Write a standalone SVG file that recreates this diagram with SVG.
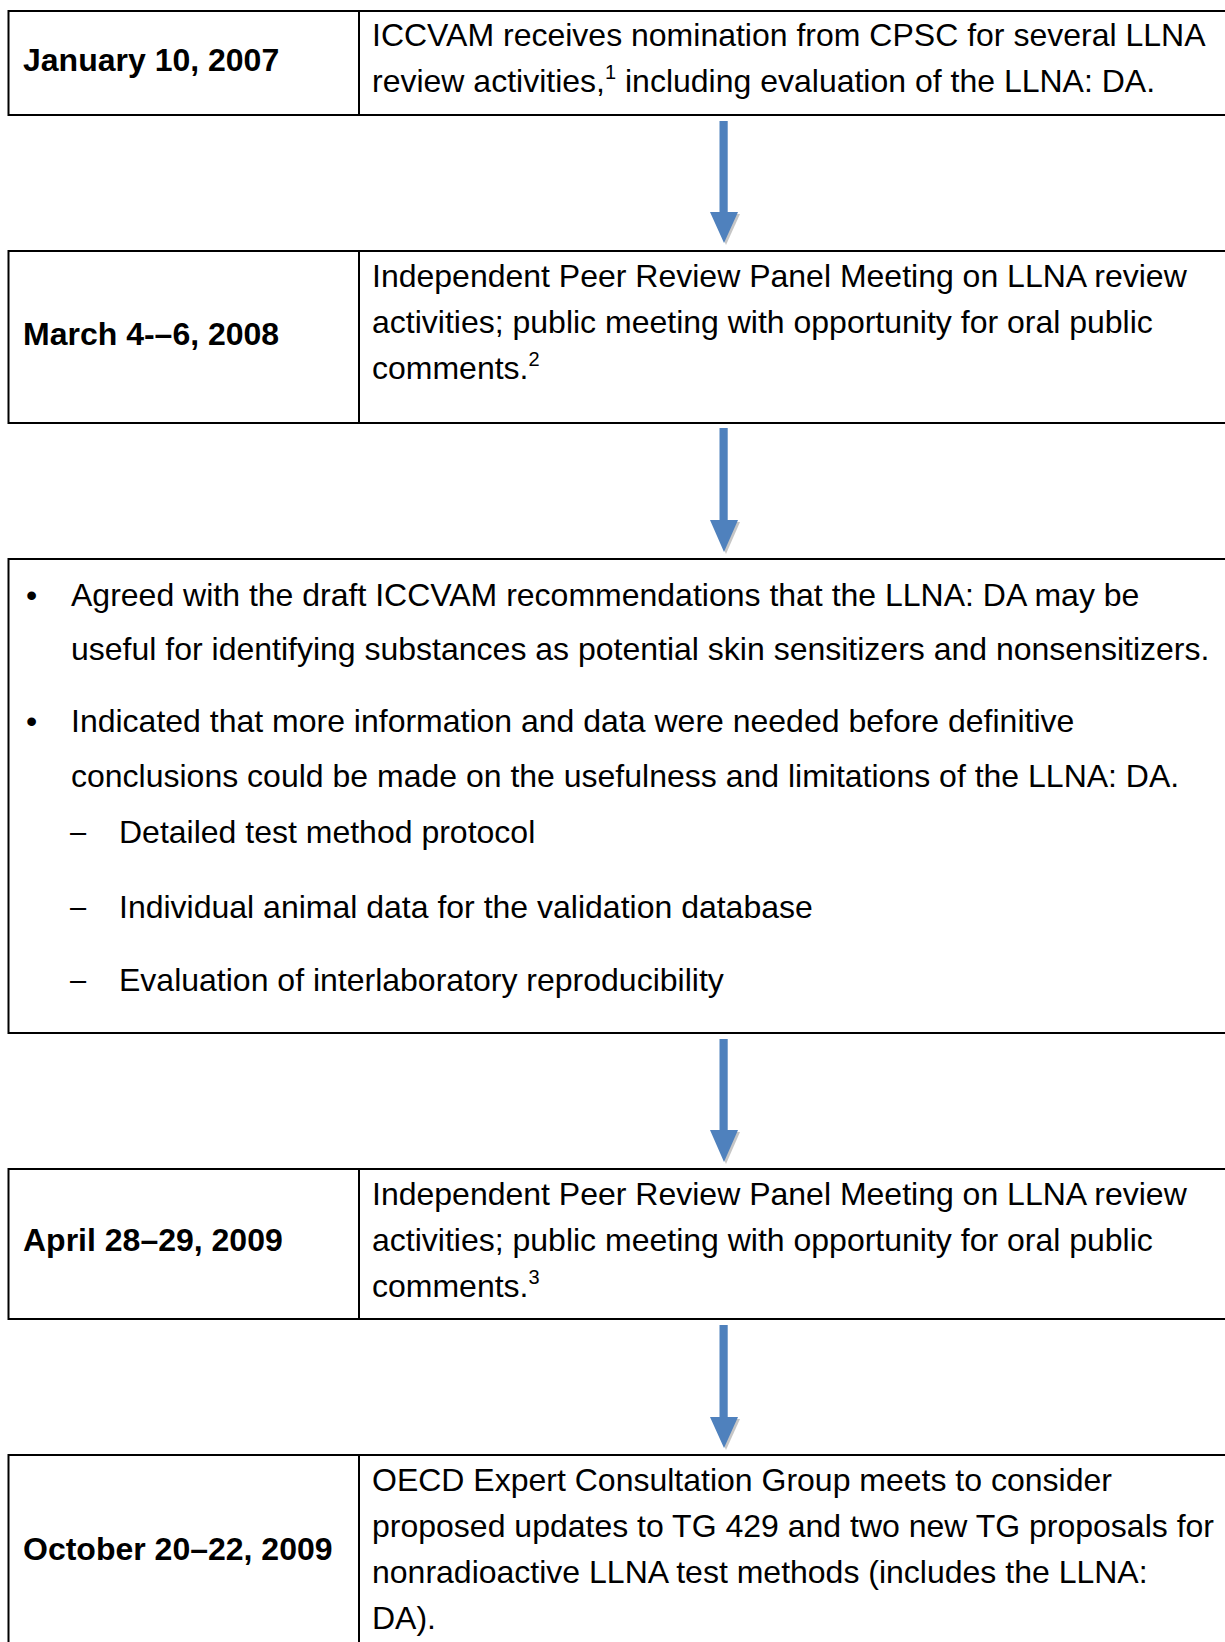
<svg xmlns="http://www.w3.org/2000/svg" width="1225" height="1642" viewBox="0 0 1225 1642">
<style>
  .box { fill: #ffffff; stroke: #000000; stroke-width: 2; }
  .div { stroke: #000000; stroke-width: 2; }
  .t { font-family: "Liberation Sans", Arial, sans-serif; font-size: 32px; fill: #000000; }
  .d { font-family: "Liberation Sans", Arial, sans-serif; font-size: 32px; font-weight: bold; fill: #000000; }
  .sup { font-size: 20px; }
  .dash { font-size: 29px; }
  .arrow { fill: #4F81BD; }
  .shadow { fill: #b8b8b8; opacity: 0.8; }
</style>
<rect x="0" y="0" width="1225" height="1642" fill="#ffffff"/>

<g id="connectors">
  <path class="shadow" d="M 712 214 L 740 214 L 726 245 Z"/>
  <path class="arrow" d="M 719.5 121 L 727.7 121 L 727.7 212 L 738 212 L 724 243 L 710 212 L 719.5 212 Z"/>
  <path class="shadow" d="M 712 522 L 740 522 L 726 554 Z"/>
  <path class="arrow" d="M 719.5 428 L 727.7 428 L 727.7 520 L 738 520 L 724 552 L 710 520 L 719.5 520 Z"/>
  <path class="shadow" d="M 712 1132 L 740 1132 L 726 1164 Z"/>
  <path class="arrow" d="M 719.5 1039 L 727.7 1039 L 727.7 1130 L 738 1130 L 724 1162 L 710 1130 L 719.5 1130 Z"/>
  <path class="shadow" d="M 712 1419 L 740 1419 L 726 1450 Z"/>
  <path class="arrow" d="M 719.5 1325 L 727.7 1325 L 727.7 1417 L 738 1417 L 724 1448 L 710 1417 L 719.5 1417 Z"/>
</g>

<g id="node1">
  <rect class="box" x="8.5" y="11" width="1240" height="104"/>
  <line class="div" x1="359" y1="11" x2="359" y2="115"/>
  <text class="d" x="23" y="71">January 10, 2007</text>
  <text class="t" x="372" y="46">ICCVAM receives nomination from CPSC for several LLNA</text>
  <text class="t" x="372" y="92">review activities,<tspan class="sup" dy="-13">1</tspan><tspan dy="13"> including evaluation of the LLNA: DA.</tspan></text>
</g>

<g id="node2">
  <rect class="box" x="8.5" y="251" width="1240" height="172"/>
  <line class="div" x1="359" y1="251" x2="359" y2="423"/>
  <text class="d" x="23" y="345">March 4-–6, 2008</text>
  <text class="t" x="372" y="287">Independent Peer Review Panel Meeting on LLNA review</text>
  <text class="t" x="372" y="333">activities; public meeting with opportunity for oral public</text>
  <text class="t" x="372" y="379">comments.<tspan class="sup" dy="-13">2</tspan></text>
</g>

<g id="node3">
  <rect class="box" x="8.5" y="559" width="1240" height="474"/>
  <text class="t" x="26" y="606">•</text>
  <text class="t" x="71" y="606">Agreed with the draft ICCVAM recommendations that the LLNA: DA may be</text>
  <text class="t" x="71" y="660">useful for identifying substances as potential skin sensitizers and nonsensitizers.</text>
  <text class="t" x="26" y="732">•</text>
  <text class="t" x="71" y="732">Indicated that more information and data were needed before definitive</text>
  <text class="t" x="71" y="787">conclusions could be made on the usefulness and limitations of the LLNA: DA.</text>
  <text class="t dash" x="70" y="842">–</text>
  <text class="t" x="119" y="843">Detailed test method protocol</text>
  <text class="t dash" x="70" y="917">–</text>
  <text class="t" x="119" y="918">Individual animal data for the validation database</text>
  <text class="t dash" x="70" y="990">–</text>
  <text class="t" x="119" y="991">Evaluation of interlaboratory reproducibility</text>
</g>

<g id="node4">
  <rect class="box" x="8.5" y="1169" width="1240" height="150"/>
  <line class="div" x1="359" y1="1169" x2="359" y2="1319"/>
  <text class="d" x="23" y="1251">April 28–29, 2009</text>
  <text class="t" x="372" y="1205">Independent Peer Review Panel Meeting on LLNA review</text>
  <text class="t" x="372" y="1251">activities; public meeting with opportunity for oral public</text>
  <text class="t" x="372" y="1297">comments.<tspan class="sup" dy="-13">3</tspan></text>
</g>

<g id="node5">
  <rect class="box" x="8.5" y="1455" width="1240" height="220"/>
  <line class="div" x1="359" y1="1455" x2="359" y2="1675"/>
  <text class="d" x="23" y="1560">October 20–22, 2009</text>
  <text class="t" x="372" y="1491">OECD Expert Consultation Group meets to consider</text>
  <text class="t" x="372" y="1537">proposed updates to TG 429 and two new TG proposals for</text>
  <text class="t" x="372" y="1583">nonradioactive LLNA test methods (includes the LLNA:</text>
  <text class="t" x="372" y="1629">DA).</text>
</g>
</svg>
